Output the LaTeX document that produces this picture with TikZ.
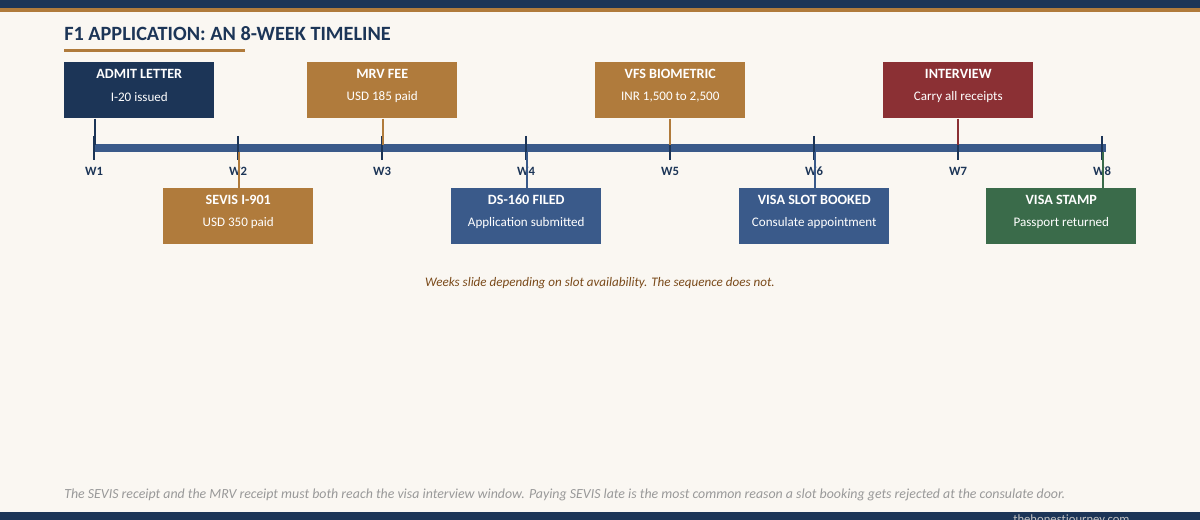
\documentclass[tikz,border=0pt]{standalone}
\usepackage{fontspec}
\setmainfont{Carlito}
\definecolor{bg}{HTML}{FAF7F2}
\definecolor{navy}{HTML}{1C3557}
\definecolor{gold}{HTML}{B07B3C}
\definecolor{blu}{HTML}{3A5A8A}
\definecolor{rd}{HTML}{8B3034}
\definecolor{grn}{HTML}{3A6B4A}
\definecolor{cap}{HTML}{7A4A1A}
\definecolor{note}{HTML}{999999}
\begin{document}
\begin{tikzpicture}[x=0.75pt,y=-0.75pt,
 box/.style={minimum width=112.5pt,minimum height=42pt,inner sep=0pt,anchor=north west},
 tick/.style={navy,line width=2.2pt},
 wk/.style={text=navy,font=\bfseries\fontsize{9.5}{10}\selectfont}]
\useasboundingbox (0,0) rectangle (1200,520);
\fill[bg] (0,0) rectangle (1200,520);
\fill[navy] (0,0) rectangle (1200,8);
\fill[gold] (0,8) rectangle (1200,12);
\node[anchor=west,text=navy,font=\bfseries\fontsize{15.2}{17}\selectfont,inner sep=0pt] (title) at (64,34) {F1 APPLICATION: AN 8-WEEK TIMELINE};
\fill[gold] (64,49) rectangle (245,52);
\fill[blu] (94,144) rectangle (1106,152);
\foreach \i/\x in {1/94,2/238,3/382,4/526,5/670,6/814,7/958,8/1102}{
 \coordinate (w\i) at (\x,148);
 \draw[tick] (\x,136) -- (\x,160);
 \node[wk] (l\i) at (\x,171) {W\i};}
\newcommand\bx[6]{\node[box,fill=#4] (#1) at (#2,#3) {};
 \node[text=white,font=\bfseries\fontsize{10.6}{12}\selectfont] (#1t) at ([yshift=-12pt*0.75]#1.north) {#5};
 \node[text=white,font=\fontsize{9.8}{11}\selectfont] (#1s) at ([yshift=-35pt*0.75]#1.north) {#6};}
\bx{admit}{64}{62}{navy}{ADMIT LETTER}{I-20 issued}
\bx{mrv}{307}{62}{gold}{MRV FEE}{USD 185 paid}
\bx{vfs}{595}{62}{gold}{VFS BIOMETRIC}{INR 1,500 to 2,500}
\bx{int}{883}{62}{rd}{INTERVIEW}{Carry all receipts}
\bx{sevis}{163}{188}{gold}{SEVIS I-901}{USD 350 paid}
\bx{ds}{451}{188}{blu}{DS-160 FILED}{Application submitted}
\bx{slot}{739}{188}{blu}{VISA SLOT BOOKED}{Consulate appointment}
\bx{stamp}{986}{188}{grn}{VISA STAMP}{Passport returned}
\draw[navy,line width=1.5pt] (admit.south -| 95,0) -- (95,145);
\draw[gold,line width=1.5pt] (mrv.south -| 383,0) -- (383,145);
\draw[gold,line width=1.5pt] (vfs.south -| 670,0) -- (670,145);
\draw[rd,line width=1.5pt] (int.south -| 958,0) -- (958,145);
\draw[gold,line width=1.5pt] (239,152) -- (sevis.north -| 239,0);
\draw[blu,line width=1.5pt] (527,152) -- (ds.north -| 527,0);
\draw[blu,line width=1.5pt] (815,152) -- (slot.north -| 815,0);
\draw[grn,line width=1.5pt] (1103,152) -- (stamp.north -| 1103,0);
\node[text=cap,font=\itshape\fontsize{9.8}{11}\selectfont] (c) at (600,283) {Weeks slide depending on slot availability. The sequence does not.};
\node[anchor=west,inner sep=0pt,text=note,font=\itshape\fontsize{10.4}{12}\selectfont] (n) at (64,495) {The SEVIS receipt and the MRV receipt must both reach the visa interview window. Paying SEVIS late is the most common reason a slot booking gets rejected at the consulate door.};
\fill[navy] (0,512) rectangle (1200,520);
\begin{scope}
\clip (0,0) rectangle (1200,520);
\node[anchor=west,inner sep=0pt,text=note!60!white,font=\fontsize{9.5}{10}\selectfont] (f) at (1013,520) {thehonestjourney.com};
\end{scope}
\end{tikzpicture}
\end{document}
